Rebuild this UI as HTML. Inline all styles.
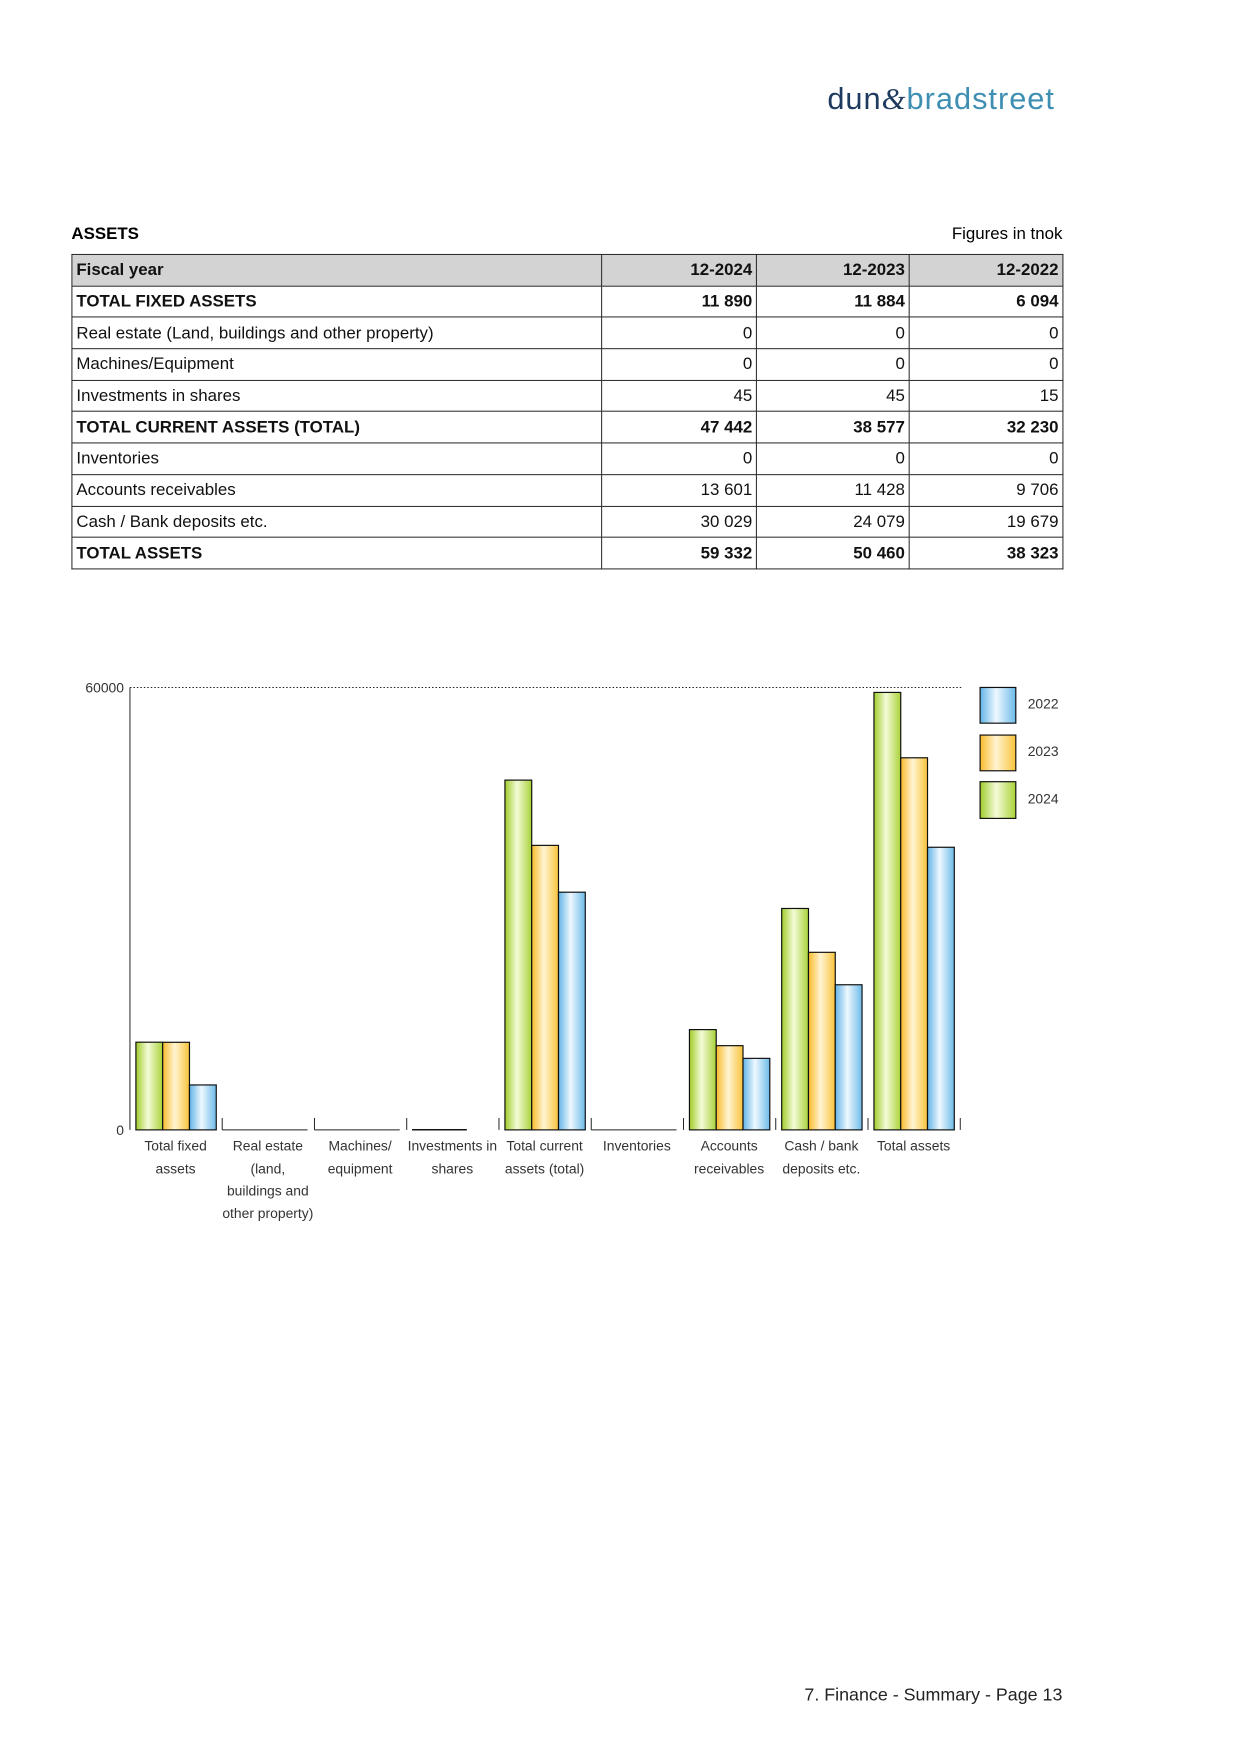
<!DOCTYPE html>
<html><head><meta charset="utf-8"><style>
body{margin:0;width:1241px;height:1754px;background:#fff;font-family:"Liberation Sans",sans-serif;position:relative;overflow:hidden}
#w{position:absolute;left:0;top:0;width:1241px;height:1754px;transform:scale(0.992);transform-origin:0 0}
.abs{position:absolute}
table{border-collapse:collapse;position:absolute;left:72px;top:256px;width:1000px;font-size:17px;color:#111}
td{border:1px solid #222;height:30.7px;padding:0 4px;line-height:30px}
td.n{text-align:right}
tr.b td{font-weight:bold}
tr.h td{background:#d3d3d3;font-weight:bold}
</style></head><body><div id="w">
<div class="abs" style="left:834px;top:80px;font-size:31px;letter-spacing:1px;line-height:40px"><span style="color:#1f3a5f">dun</span><span style="color:#1f3a5f;font-family:'Liberation Serif',serif;font-style:italic">&amp;</span><span style="color:#3f8fb3">bradstreet</span></div>
<div class="abs" style="left:72px;top:226px;font-size:17px;font-weight:bold">ASSETS</div>
<div class="abs" style="right:170px;top:226px;font-size:17px">Figures in tnok</div>
<table>
<colgroup><col style="width:535px"><col style="width:156px"><col style="width:154px"><col style="width:155px"></colgroup>
<tr class="h"><td>Fiscal year</td><td class="n">12-2024</td><td class="n">12-2023</td><td class="n">12-2022</td></tr>
<tr class="b"><td>TOTAL FIXED ASSETS</td><td class="n">11 890</td><td class="n">11 884</td><td class="n">6 094</td></tr>
<tr><td>Real estate (Land, buildings and other property)</td><td class="n">0</td><td class="n">0</td><td class="n">0</td></tr>
<tr><td>Machines/Equipment</td><td class="n">0</td><td class="n">0</td><td class="n">0</td></tr>
<tr><td>Investments in shares</td><td class="n">45</td><td class="n">45</td><td class="n">15</td></tr>
<tr class="b"><td>TOTAL CURRENT ASSETS (TOTAL)</td><td class="n">47 442</td><td class="n">38 577</td><td class="n">32 230</td></tr>
<tr><td>Inventories</td><td class="n">0</td><td class="n">0</td><td class="n">0</td></tr>
<tr><td>Accounts receivables</td><td class="n">13 601</td><td class="n">11 428</td><td class="n">9 706</td></tr>
<tr><td>Cash / Bank deposits etc.</td><td class="n">30 029</td><td class="n">24 079</td><td class="n">19 679</td></tr>
<tr class="b"><td>TOTAL ASSETS</td><td class="n">59 332</td><td class="n">50 460</td><td class="n">38 323</td></tr>
</table>
<svg class="abs" style="left:0;top:0" width="1241" height="1754">
<defs>
<linearGradient id="g" x1="0" x2="1"><stop offset="0" stop-color="#9fcc2a"/><stop offset="0.45" stop-color="#f4fbd8"/><stop offset="1" stop-color="#a9d238"/></linearGradient>
<linearGradient id="o" x1="0" x2="1"><stop offset="0" stop-color="#f8bb2a"/><stop offset="0.45" stop-color="#fff4d2"/><stop offset="1" stop-color="#f9c33a"/></linearGradient>
<linearGradient id="b" x1="0" x2="1"><stop offset="0" stop-color="#62b4e6"/><stop offset="0.45" stop-color="#eef8ff"/><stop offset="1" stop-color="#6cbbe9"/></linearGradient>
</defs>
<g font-family="Liberation Sans, sans-serif" font-size="14" fill="#333">
<line x1="131" y1="693" x2="969" y2="693" stroke="#222" stroke-dasharray="1.5,2"/>
<line x1="131" y1="693" x2="131" y2="1139" stroke="#222"/>
<text x="125" y="698" text-anchor="end">60000</text>
<text x="125" y="1144" text-anchor="end">0</text>
<g stroke="#111" stroke-width="1.2">
<rect x="137" y="1050.6" width="27" height="88.4" fill="url(#g)"/><rect x="164" y="1050.7" width="27" height="88.3" fill="url(#o)"/><rect x="191" y="1093.7" width="27" height="45.3" fill="url(#b)"/>
<rect x="416" y="1138.7" width="27" height="0.3" fill="url(#g)"/><rect x="443" y="1138.7" width="27" height="0.3" fill="url(#o)"/>
<rect x="509" y="786.4" width="27" height="352.6" fill="url(#g)"/><rect x="536" y="852.2" width="27" height="286.8" fill="url(#o)"/><rect x="563" y="899.4" width="27" height="239.6" fill="url(#b)"/>
<rect x="695" y="1037.9" width="27" height="101.1" fill="url(#g)"/><rect x="722" y="1054.1" width="27" height="84.9" fill="url(#o)"/><rect x="749" y="1066.9" width="27" height="72.1" fill="url(#b)"/>
<rect x="788" y="915.8" width="27" height="223.2" fill="url(#g)"/><rect x="815" y="960" width="27" height="179" fill="url(#o)"/><rect x="842" y="992.7" width="27" height="146.3" fill="url(#b)"/>
<rect x="881" y="698" width="27" height="441" fill="url(#g)"/><rect x="908" y="763.9" width="27" height="375.1" fill="url(#o)"/><rect x="935" y="854.1" width="27" height="284.9" fill="url(#b)"/>
<rect x="988" y="693" width="36" height="36" fill="url(#b)"/><rect x="988" y="741" width="36" height="36" fill="url(#o)"/><rect x="988" y="788" width="36" height="37" fill="url(#g)"/>
</g>
<g stroke="#222">
<line x1="224" y1="1139" x2="310" y2="1139"/><line x1="317" y1="1139" x2="403" y2="1139"/><line x1="596" y1="1139" x2="682" y2="1139"/>
<line x1="224" y1="1127" x2="224" y2="1139"/><line x1="317" y1="1127" x2="317" y2="1139"/><line x1="410" y1="1127" x2="410" y2="1139"/><line x1="503" y1="1127" x2="503" y2="1139"/><line x1="596" y1="1127" x2="596" y2="1139"/><line x1="689" y1="1127" x2="689" y2="1139"/><line x1="782" y1="1127" x2="782" y2="1139"/><line x1="875" y1="1127" x2="875" y2="1139"/><line x1="968" y1="1127" x2="968" y2="1139"/>
</g>
<text x="1036" y="714">2022</text><text x="1036" y="762">2023</text><text x="1036" y="810">2024</text>
<g text-anchor="middle">
<text x="177" y="1160">Total fixed</text><text x="177" y="1183">assets</text>
<text x="270" y="1160">Real estate</text><text x="270" y="1183">(land,</text><text x="270" y="1205">buildings and</text><text x="270" y="1228">other property)</text>
<text x="363" y="1160">Machines/</text><text x="363" y="1183">equipment</text>
<text x="456" y="1160">Investments in</text><text x="456" y="1183">shares</text>
<text x="549" y="1160">Total current</text><text x="549" y="1183">assets (total)</text>
<text x="642" y="1160">Inventories</text>
<text x="735" y="1160">Accounts</text><text x="735" y="1183">receivables</text>
<text x="828" y="1160">Cash / bank</text><text x="828" y="1183">deposits etc.</text>
<text x="921" y="1160">Total assets</text>
</g>
</g>
</svg>
<div class="abs" style="right:170px;top:1698px;font-size:18px;color:#222">7. Finance - Summary - Page 13</div>
</div></body></html>
